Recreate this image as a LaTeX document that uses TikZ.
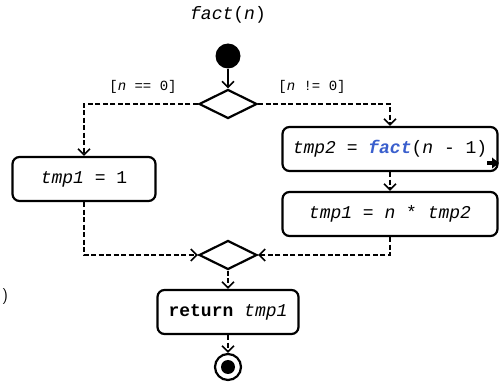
\documentclass[tikz,border=0pt]{standalone}
\usepackage{fontspec}
\setmonofont{Liberation Mono}
\usetikzlibrary{arrows.meta,shapes.geometric}
\definecolor{factblue}{RGB}{58,95,205}
\begin{document}
\begin{tikzpicture}[x=1pt,y=-1pt,
 act/.style={draw,line width=2.2pt,rounded corners=7pt,minimum height=44pt,
   font=\fontsize{18}{20}\selectfont\ttfamily,inner sep=0pt},
 dec/.style={draw,diamond,line width=2.2pt,minimum width=58pt,minimum height=29pt,inner sep=0pt},
 tip/.style={-{Straight Barb[length=6pt,width=12pt,line width=1.6pt]}},
 flow/.style={tip,line width=1.8pt,dash pattern=on 5pt off 2.5pt},
 lab/.style={font=\fontsize{14}{16}\selectfont\ttfamily}]
\useasboundingbox (0,0) rectangle (499,385);
\node[font=\fontsize{18}{20}\selectfont\ttfamily] (title) at (228,15) {\itshape fact\upshape(\itshape n\upshape)};
\node[circle,fill,minimum size=25pt,inner sep=0pt] (start) at (228,56) {};
\node[dec] (d1) at (228,104) {};
\node[lab] (l1) at (143,87) {[\itshape n\upshape{} == 0]};
\node[lab] (l2) at (312,87) {[\itshape n\upshape{} != 0]};
\node[act,minimum width=143pt] (a1) at (84,179) {\itshape tmp1\upshape{} = 1};
\node[act,minimum width=215pt] (a2) at (390,149) {\itshape tmp2\upshape{} = {\color{factblue}\bfseries\itshape fact}(\itshape n\upshape{} - 1)};
\node[act,minimum width=215pt] (a3) at (390,214) {\itshape tmp1\upshape{} = \itshape n\upshape{} * \itshape tmp2};
\node[dec] (d2) at (228,255) {};
\node[act,minimum width=141pt] (ret) at (228,312) {\bfseries return\mdseries{} \itshape tmp1};
\node[circle,draw,line width=2.2pt,minimum size=26pt,inner sep=0pt] (end) at (228,367) {};
\node[circle,fill,minimum size=14pt,inner sep=0pt] (endin) at (228,367) {};
\node[font=\fontsize{16}{18}\selectfont\sffamily] (paren) at (5,297) {)};
% call icon
\fill (487,161) rectangle (493,165);
\fill (492,157.5) -- (499,163) -- (492,168.5) -- cycle;
\draw[tip,line width=1.8pt] (start) -- (d1.north);
\draw[flow] (d1.west) -| (a1.north);
\draw[flow] (d1.east) -| (a2.north);
\draw[flow] (a2) -- (a3);
\draw[flow] (a1.south) |- (d2.west);
\draw[flow] (a3.south) |- (d2.east);
\draw[flow] (d2) -- (ret);
\draw[flow] (ret) -- (end);
\end{tikzpicture}
\end{document}
